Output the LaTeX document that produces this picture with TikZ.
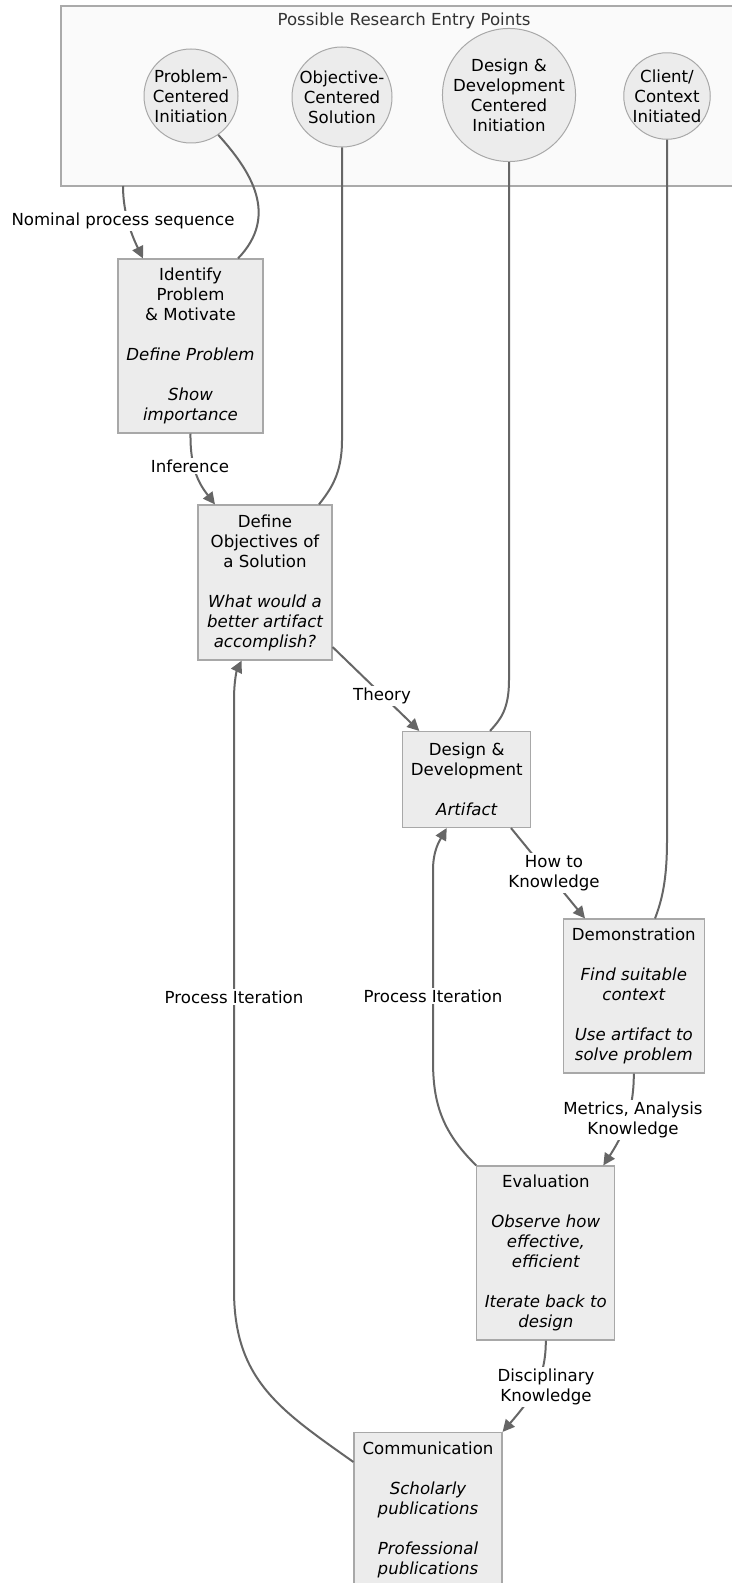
\documentclass[tikz,border=0pt]{standalone}
\usepackage{fontspec}
\setmainfont{DejaVu Sans}
\usetikzlibrary{arrows.meta,calc}
\definecolor{nodefill}{HTML}{ECECEC}
\definecolor{nodestroke}{HTML}{A8A8A8}
\definecolor{clusterfill}{HTML}{FAFAFA}
\definecolor{clusterstroke}{HTML}{AAAAAA}
\definecolor{edgecol}{HTML}{666666}
\definecolor{titlecol}{HTML}{333333}
\tikzset{
  every node/.style={font=\fontsize{8.3pt}{10pt}\selectfont, text=black},
  stepbox/.style={draw=nodestroke, fill=nodefill, line width=0.55pt, rectangle, inner sep=0pt, align=center},
  entry/.style={draw=nodestroke, fill=nodefill, line width=0.5pt, circle, inner sep=0pt, align=center},
  conn/.style={draw=edgecol, line width=1pt},
  arr/.style={conn, -{Triangle[length=6pt,width=5.8pt]}},
  elabel/.style={fill=white, inner sep=1pt, align=center}
}
\begin{document}
\begin{tikzpicture}[x=0.5pt,y=-0.5pt]
\useasboundingbox (0,0) rectangle (732,1583);
\clip (0,0) rectangle (732,1583);
\fill[white] (0,0) rectangle (732,1583);
% cluster
\node[draw=clusterstroke, fill=clusterfill, line width=0.55pt, rectangle, minimum width=342pt, minimum height=90pt, inner sep=0pt] (cluster) at (403,96) {};
\node[text=titlecol] (title) at (404,21) {Possible Research Entry Points};
% entry circles
\node[entry, minimum size=47pt] (pc) at (191,96) {Problem-\\Centered\\Initiation};
\node[entry, minimum size=50pt] (oc) at (342,97) {Objective-\\Centered\\Solution};
\node[entry, minimum size=65pt] (dc) at (509,95) {Design \&\\Development\\Centered\\Initiation};
\node[entry, minimum size=43pt] (cc) at (667,96) {Client/\\Context\\Initiated};
% process boxes
\node[stepbox, minimum width=72.5pt, minimum height=87pt] (ident) at (190.5,346)
  {Identify\\Problem\\\& Motivate\\[10pt]\itshape Define Problem\\[10pt]\itshape Show\\\itshape importance};
\node[stepbox, minimum width=67pt, minimum height=77.5pt] (defobj) at (265,582.5)
  {Define\\Objectives of\\a Solution\\[10pt]\itshape What would a\\\itshape better artifact\\\itshape accomplish?};
\node[stepbox, minimum width=64pt, minimum height=48pt] (design) at (466.7,779.5)
  {Design \&\\Development\\[10pt]\itshape Artifact};
\node[stepbox, minimum width=70.5pt, minimum height=77pt] (demo) at (633.8,996)
  {Demonstration\\[10pt]\itshape Find suitable\\\itshape context\\[10pt]\itshape Use artifact to\\\itshape solve problem};
\node[stepbox, minimum width=69pt, minimum height=87pt] (eval) at (545.8,1253)
  {Evaluation\\[10pt]\itshape Observe how\\\itshape effective,\\\itshape efficient\\[10pt]\itshape Iterate back to\\\itshape design};
\node[stepbox, minimum width=74pt, minimum height=77.5pt] (comm) at (428,1510)
  {Communication\\[10pt]\itshape Scholarly\\\itshape publications\\[10pt]\itshape Professional\\\itshape publications};
\coordinate (cb) at (123,186);
% connectors
\draw[arr] (cb) .. controls (123,215) and (133,238) .. ([xshift=-23.75pt]ident.north);
\draw[conn] (pc.-55) .. controls (250,170) and (280,215) .. ([xshift=23.75pt]ident.north);
\draw[arr] (ident.south) .. controls (190,470) and (200,485) .. ([xshift=-25pt]defobj.north);
\draw[conn] (oc.south) -- (oc.south |- 0,440) .. controls (342,475) and (330,490) .. ([xshift=27pt]defobj.north);
\draw[arr] ([yshift=-32.25pt]defobj.east) -- ([xshift=-23.7pt]design.north);
\draw[conn] (dc.south) -- (dc.south |- 0,680) .. controls (509,710) and (500,720) .. ([xshift=11.65pt]design.north);
\draw[arr] ([xshift=22.15pt]design.south) -- ([xshift=-24.4pt]demo.north);
\draw[conn] (cc.south) -- (cc.south |- 0,840) .. controls (667,880) and (662,900) .. ([xshift=10.6pt]demo.north);
\draw[arr] (demo.south) .. controls (634,1115) and (620,1140) .. ([xshift=28.75pt]eval.north);
\draw[arr] (eval.north west) .. controls (440,1130) and (433,1100) .. (433,1060) -- (433,870) .. controls (433,850) and (440,840) .. ([xshift=-10pt]design.south);
\draw[arr] ([yshift=24pt]comm.west) .. controls (280,1410) and (234,1380) .. (234,1290) -- (234,700) .. controls (234,680) and (237,670) .. ([xshift=-11.65pt]defobj.south);
\draw[arr] (eval.south) .. controls (546,1380) and (530,1400) .. (comm.north east);
% edge labels
\node[elabel] (l1) at (123,221) {Nominal process sequence};
\node[elabel] (l2) at (190,466) {Inference};
\node[elabel] (l3) at (382,696) {Theory};
\node[elabel] (l4) at (554,873) {How to\\Knowledge};
\node[elabel] (l5) at (633,1120) {Metrics, Analysis\\Knowledge};
\node[elabel] (l6) at (433,996) {Process Iteration};
\node[elabel] (l7) at (234,997) {Process Iteration};
\node[elabel] (l8) at (546,1387) {Disciplinary\\Knowledge};
\end{tikzpicture}
\end{document}
